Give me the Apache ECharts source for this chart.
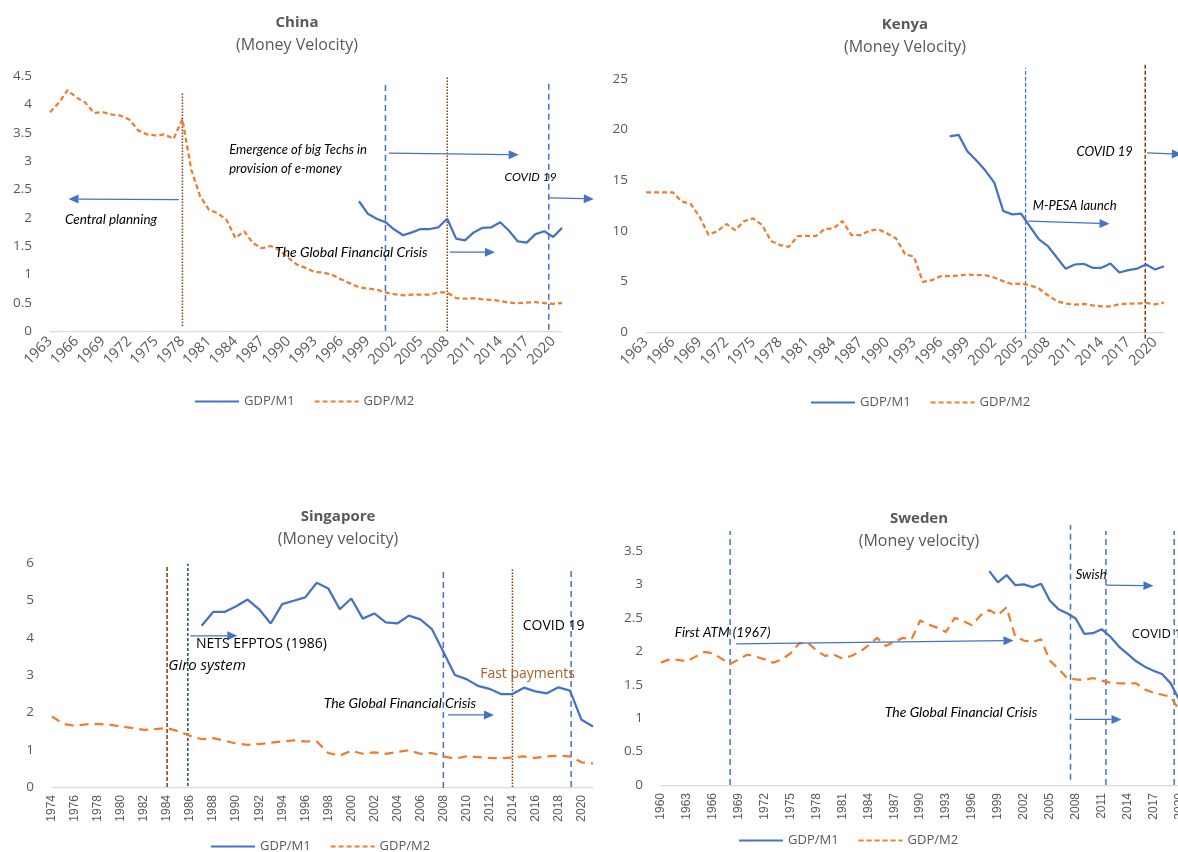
<!DOCTYPE html>
<html>
<head>
<meta charset="utf-8">
<script src="https://cdn.jsdelivr.net/npm/echarts@6/dist/echarts.min.js"></script>
<style>
  html, body { margin: 0; background: #fff; }
  #charts { width: 1178px; height: 852px; }
</style>
</head>
<body>
<div id="charts"></div>
<script>
// money velocity, GDP/M1 and GDP/M2
const chinaM2Start = 1963
const chinaM2 = [3.86, 4.03, 4.25, 4.12, 4.03, 3.85, 3.86, 3.82, 3.80, 3.73,
  3.54, 3.47, 3.45, 3.47, 3.39, 3.74, 2.85, 2.38, 2.14, 2.08,
  1.96, 1.64, 1.76, 1.55, 1.46, 1.50, 1.43, 1.29, 1.17, 1.11,
  1.04, 1.03, 0.99, 0.91, 0.84, 0.77, 0.75, 0.73, 0.68, 0.65,
  0.63, 0.64, 0.64, 0.64, 0.68, 0.68, 0.58, 0.57, 0.58, 0.56,
  0.55, 0.53, 0.50, 0.49, 0.50, 0.51, 0.49, 0.48, 0.49]
const chinaM1Start = 1998
const chinaM1 = [2.29, 2.07, 1.98, 1.92, 1.79, 1.69, 1.74, 1.80, 1.80, 1.83,
  1.98, 1.63, 1.60, 1.74, 1.82, 1.83, 1.92, 1.77, 1.58, 1.56,
  1.71, 1.76, 1.66, 1.82]

const kenyaM2Start = 1963
const kenyaM2 = [13.8, 13.8, 13.8, 13.8, 12.9, 12.65, 11.4, 9.6, 9.97, 10.67,
  10.07, 10.96, 11.23, 10.57, 9.0, 8.59, 8.42, 9.48, 9.51, 9.48,
  10.17, 10.24, 10.96, 9.58, 9.58, 10.0, 10.14, 9.74, 9.25, 7.7,
  7.43, 4.95, 5.12, 5.52, 5.52, 5.58, 5.68, 5.61, 5.61, 5.38,
  5.02, 4.72, 4.79, 4.62, 4.29, 3.63, 3.04, 2.81, 2.71, 2.77,
  2.64, 2.54, 2.54, 2.74, 2.81, 2.81, 2.87, 2.74, 2.9]
const kenyaM1Start = 1997
const kenyaM1 = [19.32, 19.48, 17.83, 16.94, 15.95, 14.76, 11.96, 11.62, 11.69, 10.4,
  9.15, 8.49, 7.36, 6.24, 6.67, 6.74, 6.34, 6.34, 6.77, 5.88,
  6.11, 6.27, 6.67, 6.18, 6.5]

const singaporeM2Start = 1974
const singaporeM2 = [1.89, 1.69, 1.64, 1.68, 1.69, 1.67, 1.62, 1.58, 1.53, 1.55,
  1.58, 1.49, 1.37, 1.28, 1.31, 1.24, 1.16, 1.13, 1.15, 1.19,
  1.22, 1.25, 1.22, 1.22, 0.91, 0.84, 0.97, 0.89, 0.93, 0.89,
  0.94, 0.98, 0.89, 0.91, 0.82, 0.76, 0.82, 0.80, 0.78, 0.77,
  0.79, 0.82, 0.78, 0.82, 0.84, 0.82, 0.66, 0.63]
const singaporeM1Start = 1987
const singaporeM1 = [4.32, 4.69, 4.69, 4.84, 5.02, 4.76, 4.38, 4.9, 4.99, 5.08,
  5.47, 5.32, 4.76, 5.05, 4.51, 4.65, 4.41, 4.38, 4.59, 4.49,
  4.23, 3.62, 3.0, 2.89, 2.71, 2.63, 2.49, 2.49, 2.66, 2.56,
  2.51, 2.67, 2.58, 1.8, 1.62]

const swedenM2Start = 1960
const swedenM2 = [1.83, 1.88, 1.87, 1.85, 1.92, 1.99, 1.97, 1.89, 1.81, 1.88,
  1.95, 1.92, 1.88, 1.83, 1.88, 1.97, 2.12, 2.13, 2.01, 1.93,
  1.95, 1.89, 1.93, 1.99, 2.09, 2.2, 2.08, 2.14, 2.2, 2.18,
  2.46, 2.40, 2.35, 2.29, 2.50, 2.45, 2.39, 2.54, 2.62, 2.54,
  2.66, 2.22, 2.16, 2.14, 2.18, 1.86, 1.74, 1.6, 1.58, 1.57,
  1.6, 1.56, 1.53, 1.52, 1.52, 1.52, 1.43, 1.38, 1.35, 1.32,
  1.12]
const swedenM1Start = 1998
const swedenM1 = [3.2, 3.03, 3.14, 2.99, 3.0, 2.96, 3.01, 2.76, 2.63, 2.57,
  2.49, 2.26, 2.27, 2.33, 2.22, 2.07, 1.96, 1.85, 1.77, 1.71,
  1.66, 1.52, 1.27]

// x range and label step of each panel
const chinaYears = [1963, 2021, 3]
const kenyaYears = [1963, 2021, 3]
const singaporeYears = [1974, 2021, 2]
const swedenYears = [1960, 2021, 3]

const BLUE = '#4472C4'
const ORANGE = '#ED7D31'
const BROWN = '#843C0C'
const NAVY = '#1F4E79'
const GREY = '#595959'
const UI_FONT = '"Open Sans", "Noto Sans", sans-serif'
const NOTE_FONT = 'Lato, "Open Sans", sans-serif'
const ARIAL = '"Liberation Sans", Arial, sans-serif'

const pairs = (start, vals) => vals.map((v, i) => [start + i, v])

const panels = [
  {
    title: 'China', sub: '(Money Velocity)', cx: 297, titleTop: 15,
    grid: { left: 50, top: 76, width: 512, height: 255 },
    years: chinaYears, ymax: 4.5, yint: 0.5, rotate: 45, labelFont: UI_FONT, labelSize: 14.5,
    m1: pairs(chinaM1Start, chinaM1), m2: pairs(chinaM2Start, chinaM2), dash: [5, 3],
    legend: { left: 194, top: 395 }
  },
  {
    title: 'Kenya', sub: '(Money Velocity)', cx: 905, titleTop: 17,
    grid: { left: 646, top: 79, width: 518, height: 253 },
    years: kenyaYears, ymax: 25, yint: 5, rotate: 45, labelFont: UI_FONT, labelSize: 14.5,
    m1: pairs(kenyaM1Start, kenyaM1), m2: pairs(kenyaM2Start, kenyaM2), dash: [5, 3],
    legend: { left: 810, top: 396 }
  },
  {
    title: 'Singapore', sub: '(Money velocity)', cx: 338, titleTop: 509,
    grid: { left: 52, top: 563, width: 541, height: 224 },
    years: singaporeYears, ymax: 6, yint: 1, rotate: 90, labelFont: ARIAL, labelSize: 12,
    m1: pairs(singaporeM1Start, singaporeM1), m2: pairs(singaporeM2Start, singaporeM2), dash: [9, 6],
    legend: { left: 210, top: 840 }
  },
  {
    title: 'Sweden', sub: '(Money velocity)', cx: 919, titleTop: 511,
    grid: { left: 661, top: 551, width: 527, height: 234 },
    years: swedenYears, ymax: 3.5, yint: 0.5, rotate: 90, labelFont: ARIAL, labelSize: 12,
    m1: pairs(swedenM1Start, swedenM1), m2: pairs(swedenM2Start, swedenM2), dash: [9, 6],
    legend: { left: 738, top: 834 }
  }
]

// event lines: [grid, year, from value, to value, colour, dash, width]
const eventLines = [
  [0, 1978, 0.09, 4.2, BROWN, [1.5, 1.5], 1.5],
  [0, 2001, 0, 4.39, BLUE, [6, 4], 1.5],
  [0, 2008, 0, 4.49, BROWN, [1.5, 1.5], 1.5],
  [0, 2019.5, 0.02, 4.41, BLUE, [6, 4], 1.5],
  [1, 2005.5, -0.66, 26.1, BLUE, [4, 2], 1.25],
  [1, 2018.9, -0.66, 26.4, BROWN, [4, 2], 1.5],
  [2, 1984, 0, 5.94, BROWN, [4, 2], 1.5],
  [2, 1985.8, 0.03, 5.98, NAVY, [3, 2], 1.5],
  [2, 2008, -0.03, 5.78, BLUE, [6, 4], 1.5],
  [2, 2014, 0, 5.83, BROWN, [1.5, 1.5], 1.5],
  [2, 2019.1, 0, 5.79, BLUE, [6, 4], 1.5],
  [3, 1968, 0, 3.8, BLUE, [6, 4], 1.5],
  [3, 2007.4, 0.08, 3.89, BLUE, [6, 4], 1.5],
  [3, 2011.5, 0, 3.8, BLUE, [6, 4], 1.5],
  [3, 2019.4, 0, 3.8, BLUE, [6, 4], 1.5]
]

// arrows: [grid, from, to]
const arrows = [
  [0, [1977.6, 2.32], [1965.1, 2.33]],
  [0, [2001.4, 3.14], [2016.1, 3.11]],
  [0, [2019.5, 2.35], [2024.6, 2.33]],
  [0, [2008.3, 1.39], [2013.4, 1.39]],
  [1, [2005.8, 10.96], [2014.9, 10.7]],
  [1, [2019.1, 17.7], [2023.0, 17.56]],
  [2, [1986.0, 4.05], [1990.1, 4.05]],
  [2, [2008.4, 1.93], [2012.4, 1.93]],
  [3, [1968.7, 2.11], [2000.8, 2.16]],
  [3, [2011.5, 2.99], [2017.0, 2.98]],
  [3, [2007.9, 0.98], [2013.3, 0.98]]
]

// notes: [grid, text, left/middle anchor, font, colour]
const notes = [
  [0, 'Central planning', [1964.7, 1.96], 'italic 13.5px ' + NOTE_FONT, '#000'],
  [0, 'Emergence of big Techs in', [1983.3, 3.2], 'italic 13px ' + NOTE_FONT, '#000'],
  [0, 'provision of e-money', [1983.3, 2.87], 'italic 13px ' + NOTE_FONT, '#000'],
  [0, 'COVID 19', [2014.5, 2.71], 'italic 12px ' + NOTE_FONT, '#000'],
  [0, 'The Global Financial Crisis', [1988.5, 1.39], 'italic 14px ' + NOTE_FONT, '#000'],
  [1, 'M-PESA launch', [2006.3, 12.5], 'italic 13px ' + NOTE_FONT, '#000'],
  [1, 'COVID 19', [2011.2, 17.8], 'italic 13px ' + NOTE_FONT, '#000'],
  [2, 'NETS EFPTOS (1986)', [1986.5, 3.83], '14px ' + UI_FONT, '#000'],
  [2, 'Giro system', [1984.1, 3.25], 'italic 15px ' + UI_FONT, '#000'],
  [2, 'COVID 19', [2014.9, 4.31], '14px ' + UI_FONT, '#000'],
  [2, 'Fast payments', [2011.2, 3.03], '14px ' + UI_FONT, '#A5602D'],
  [2, 'The Global Financial Crisis', [1997.6, 2.24], 'italic 14px ' + NOTE_FONT, '#000'],
  [3, 'First ATM (1967)', [1961.6, 2.28], 'italic 13.5px ' + NOTE_FONT, '#000'],
  [3, 'Swish', [2008.0, 3.14], 'italic 13px ' + NOTE_FONT, '#000'],
  [3, 'COVID 19', [2014.5, 2.25], '13px ' + UI_FONT, '#000'],
  [3, 'The Global Financial Crisis', [1985.9, 1.08], 'italic 14px ' + NOTE_FONT, '#000']
]

const chart = echarts.init(document.getElementById('charts'))

const option = {
  animation: false,
  backgroundColor: '#fff',
  title: [],
  legend: [],
  grid: [],
  xAxis: [],
  yAxis: [],
  series: []
}

panels.forEach((p, i) => {
  option.title.push({
    text: p.title,
    subtext: p.sub,
    left: p.cx,
    top: p.titleTop,
    textAlign: 'center',
    itemGap: 7,
    padding: 0,
    textStyle: { fontFamily: UI_FONT, fontSize: 15, fontWeight: 'bold', color: GREY },
    subtextStyle: { fontFamily: UI_FONT, fontSize: 16, color: GREY }
  })
  option.legend.push({
    data: ['GDP/M1', 'GDP/M2'],
    left: p.legend.left,
    top: p.legend.top,
    padding: 0,
    itemWidth: 44,
    itemHeight: 14,
    itemGap: 19,
    itemStyle: { opacity: 0 },
    textStyle: { fontFamily: UI_FONT, fontSize: 13, color: GREY }
  })
  option.grid.push(Object.assign({ containLabel: false, outerBoundsMode: 'none' }, p.grid))
  const [ymin, ymaxYear, step] = p.years
  option.xAxis.push({
    type: 'value',
    gridIndex: i,
    min: ymin,
    max: ymaxYear,
    interval: step,
    splitLine: { show: false },
    axisTick: { show: false },
    axisLine: { show: true, onZero: false, lineStyle: { color: '#D9D9D9', width: 1.25 } },
    axisLabel: {
      rotate: p.rotate,
      margin: 8,
      fontFamily: p.labelFont,
      fontSize: p.labelSize,
      color: GREY,
      showMaxLabel: false,
      formatter: v => ((v - ymin) % step === 0 ? String(v) : '')
    }
  })
  option.yAxis.push({
    type: 'value',
    gridIndex: i,
    min: 0,
    max: p.ymax,
    interval: p.yint,
    splitLine: { show: false },
    axisLine: { show: false },
    axisTick: { show: false },
    axisLabel: { margin: 18, fontFamily: UI_FONT, fontSize: 13.5, color: GREY }
  })
  option.series.push(
    {
      name: 'GDP/M1',
      type: 'line',
      xAxisIndex: i,
      yAxisIndex: i,
      data: p.m1,
      symbol: 'none',
      z: 4,
      itemStyle: { color: BLUE },
      lineStyle: { color: BLUE, width: 2.25 }
    },
    {
      name: 'GDP/M2',
      type: 'line',
      xAxisIndex: i,
      yAxisIndex: i,
      data: p.m2,
      symbol: 'none',
      z: 3,
      itemStyle: { color: ORANGE },
      lineStyle: { color: ORANGE, width: 2.25, type: p.dash }
    }
  )
})

chart.setOption(option)

// annotations placed through each grid's own scales
const px = (gi, pt) => chart.convertToPixel({ gridIndex: gi }, pt)
const elements = []

eventLines.forEach(([gi, x, y0, y1, color, dash, w]) => {
  const a = px(gi, [x, y0])
  const b = px(gi, [x, y1])
  elements.push({
    type: 'line',
    z: 1,
    silent: true,
    shape: { x1: a[0], y1: a[1], x2: b[0], y2: b[1] },
    style: { stroke: color, lineWidth: w, lineDash: dash }
  })
})

arrows.forEach(([gi, from, to]) => {
  const a = px(gi, from)
  const b = px(gi, to)
  const ang = Math.atan2(b[1] - a[1], b[0] - a[0])
  const len = 10
  const half = 4.5
  const base = [b[0] - len * Math.cos(ang), b[1] - len * Math.sin(ang)]
  const p1 = [base[0] + half * Math.sin(ang), base[1] - half * Math.cos(ang)]
  const p2 = [base[0] - half * Math.sin(ang), base[1] + half * Math.cos(ang)]
  elements.push(
    {
      type: 'line',
      z: 5,
      silent: true,
      shape: { x1: a[0], y1: a[1], x2: base[0], y2: base[1] },
      style: { stroke: BLUE, lineWidth: 1.25 }
    },
    {
      type: 'polygon',
      z: 5,
      silent: true,
      shape: { points: [b, p1, p2] },
      style: { fill: BLUE }
    }
  )
})

notes.forEach(([gi, text, at, font, color]) => {
  const p = px(gi, at)
  elements.push({
    type: 'text',
    z: 10,
    silent: true,
    x: p[0],
    y: p[1],
    style: { text, font, fill: color, verticalAlign: 'middle', align: 'left' }
  })
})

chart.setOption({ graphic: { elements } })
</script>
</body>
</html>
